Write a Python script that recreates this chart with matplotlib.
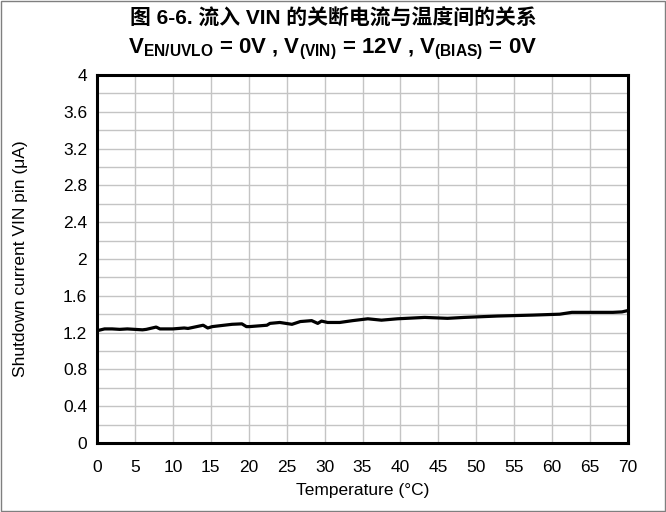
import numpy as np
import matplotlib
matplotlib.use("Agg")
import matplotlib.pyplot as plt
from matplotlib.patches import Rectangle

plt.rcParams["font.family"] = ["Liberation Sans", "Noto Sans CJK SC", "DejaVu Sans"]
plt.rcParams["mathtext.default"] = "regular"

# shutdown current into VIN versus temperature
temperature = [0, 1, 2, 3, 4, 5, 6, 6.5, 7.8, 8.3, 10, 11.5, 12, 14, 14.6, 15.2,
               17.8, 19.1, 19.7, 20.1, 22.4, 22.8, 24.1, 25.7, 26.8, 28.3, 29.1,
               29.6, 30.4, 32, 33.7, 35.7, 37.5, 39.6, 43.2, 46.2, 48.4, 52.8,
               57.4, 61, 62.6, 68, 69.2, 70]
current = [1.22, 1.24, 1.24, 1.235, 1.24, 1.235, 1.23, 1.235, 1.26, 1.24, 1.24,
           1.25, 1.245, 1.28, 1.25, 1.265, 1.29, 1.295, 1.265, 1.265, 1.28, 1.30,
           1.31, 1.29, 1.32, 1.33, 1.30, 1.325, 1.31, 1.31, 1.33, 1.35, 1.335,
           1.35, 1.365, 1.355, 1.365, 1.38, 1.39, 1.40, 1.42, 1.42, 1.425, 1.44]

x_ticks = np.arange(0, 71, 5)
y_ticks = np.arange(0, 4.01, 0.4)
y_grid = np.arange(0, 4.01, 0.2)

title1 = "图 6-6. 流入 VIN 的关断电流与温度间的关系"
title2 = r"V$_{EN/UVLO}$ = 0V , V$_{(VIN)}$ = 12V , V$_{(BIAS)}$ = 0V"

fig = plt.figure(figsize=(6.66, 5.12), dpi=100)
ax = fig.add_axes([0.1456, 0.1348, 0.7974, 0.7187])

ax.plot(temperature, current, color="black", linewidth=2.3, solid_joinstyle="round")

ax.set_xlim(0, 70)
ax.set_ylim(0, 4)
ax.set_xticks(x_ticks)
ax.set_xticklabels([str(int(t)) for t in x_ticks])
ax.set_yticks(y_ticks)
ax.set_yticklabels(["{:g}".format(round(v, 1)) for v in y_ticks])
ax.set_yticks(y_grid, minor=True)
ax.tick_params(which="both", length=0, labelsize=12.5)
ax.tick_params(axis="x", pad=12)
ax.tick_params(axis="y", pad=7)
ax.grid(True, which="major", color="#c4c4c4", linewidth=1.0)
ax.grid(True, which="minor", axis="y", color="#c4c4c4", linewidth=1.0)
ax.set_axisbelow(True)

for side in ["top", "bottom", "left", "right"]:
    ax.spines[side].set_linewidth(2.2)

ax.set_xlabel("Temperature (°C)", fontsize=12.5, labelpad=6)
ax.set_ylabel("Shutdown current VIN pin (μA)", fontsize=12.5, labelpad=25)

fig.text(0.5, 1 - 19 / 512, title1, ha="center", va="center",
         fontsize=15, fontweight="bold")
fig.text(0.5, 1 - 49 / 512, title2, ha="center", va="center",
         fontsize=16, fontweight="bold")

# thin frame round the whole figure
fig.patches.append(Rectangle((0.001, 0.001), 0.998, 0.997, transform=fig.transFigure,
                             fill=False, edgecolor="#7f7f7f", linewidth=1.0))

fig.savefig("out.png", dpi=100)
